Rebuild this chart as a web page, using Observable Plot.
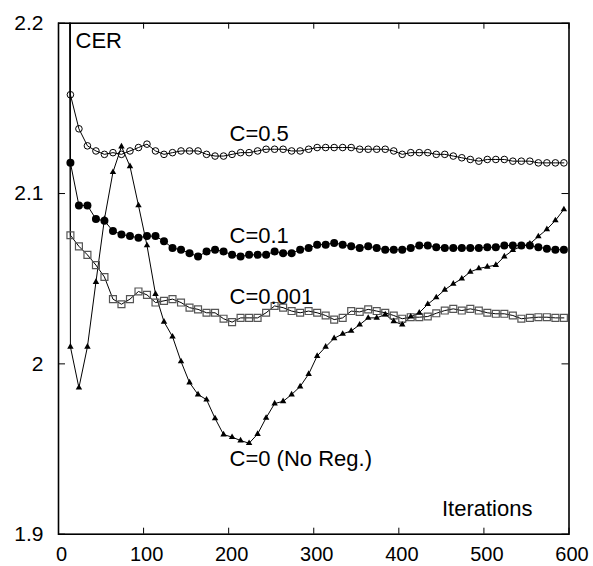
<!DOCTYPE html>
<html><head><meta charset="utf-8">
<script src="https://cdn.jsdelivr.net/npm/d3@7"></script>
<script src="https://cdn.jsdelivr.net/npm/@observablehq/plot@0.6"></script>
<style>body{margin:0;background:#fff}</style>
</head><body><div id="chart"></div>
<script>
// Iterations (first entry: off-chart starting point)
const iterations = [12,
  14, 24, 34, 44, 54, 64, 74, 84, 94, 104,
  114, 124, 134, 144, 154, 164, 174, 184, 194, 204,
  214, 224, 234, 244, 254, 264, 274, 284, 294, 304,
  314, 324, 334, 344, 354, 364, 374, 384, 394, 404,
  414, 424, 434, 444, 454, 464, 474, 484, 494, 504,
  514, 524, 534, 544, 554, 564, 574, 584, 594];

const cerC05 = [2.6,
  2.158, 2.138, 2.128, 2.125, 2.123, 2.124, 2.123, 2.125, 2.127, 2.129,
  2.125, 2.123, 2.124, 2.125, 2.125, 2.125, 2.123, 2.122, 2.122, 2.123,
  2.124, 2.124, 2.125, 2.126, 2.126, 2.126, 2.125, 2.125, 2.126, 2.127,
  2.127, 2.127, 2.127, 2.127, 2.126, 2.126, 2.126, 2.126, 2.125, 2.123,
  2.124, 2.124, 2.124, 2.123, 2.123, 2.122, 2.121, 2.120, 2.119, 2.120,
  2.120, 2.120, 2.119, 2.119, 2.119, 2.118, 2.118, 2.118, 2.118];

const cerC01 = [2.6,
  2.118, 2.093, 2.093, 2.085, 2.084, 2.078, 2.076, 2.075, 2.074, 2.075,
  2.075, 2.072, 2.068, 2.067, 2.065, 2.063, 2.066, 2.067, 2.066, 2.064,
  2.063, 2.064, 2.064, 2.064, 2.066, 2.065, 2.065, 2.067, 2.068, 2.070,
  2.070, 2.071, 2.070, 2.069, 2.068, 2.069, 2.068, 2.067, 2.067, 2.067,
  2.068, 2.0695, 2.0695, 2.0685, 2.068, 2.068, 2.068, 2.068, 2.068, 2.0685,
  2.0685, 2.0695, 2.0695, 2.0695, 2.0695, 2.0685, 2.0676, 2.067, 2.067];

const cerC0001 = [2.6,
  2.0755, 2.069, 2.064, 2.058, 2.051, 2.038, 2.035, 2.038, 2.0425, 2.0405,
  2.036, 2.037, 2.038, 2.036, 2.033, 2.032, 2.030, 2.030, 2.0265, 2.0245,
  2.027, 2.027, 2.027, 2.030, 2.034, 2.033, 2.031, 2.030, 2.031, 2.030,
  2.0284, 2.026, 2.027, 2.031, 2.0305, 2.032, 2.031, 2.030, 2.0284, 2.0265,
  2.0274, 2.0274, 2.0278, 2.0297, 2.0313, 2.0323, 2.0313, 2.0323, 2.0313, 2.030,
  2.0294, 2.0294, 2.0284, 2.0265, 2.027, 2.0274, 2.0274, 2.027, 2.027];

const cerC0 = [2.6,
  2.010, 1.986, 2.010, 2.048, 2.085, 2.1125, 2.1276, 2.116, 2.093, 2.0695,
  2.041, 2.0247, 2.016, 2.0014, 1.989, 1.982, 1.979, 1.968, 1.9585, 1.957,
  1.955, 1.9534, 1.9588, 1.9683, 1.9767, 1.978, 1.982, 1.9867, 1.994, 2.0046,
  2.010, 2.015, 2.0176, 2.0193, 2.023, 2.027, 2.027, 2.029, 2.025, 2.023,
  2.0277, 2.030, 2.035, 2.039, 2.0435, 2.047, 2.050, 2.054, 2.056, 2.057,
  2.058, 2.063, 2.0667, 2.069, 2.0705, 2.0748, 2.079, 2.0842, 2.0907];

const xTicks = [0, 100, 200, 300, 400, 500, 600];
const yTicks = [1.9, 2.0, 2.1, 2.2];

const labelText = ["C=0.5", "C=0.1", "C=0.001", "C=0 (No Reg.)", "CER", "Iterations"];
const labelX = [201, 201, 201, 201, 20, 450.7];
const labelY = [2.1311, 2.0708, 2.0354, 1.9403, 2.1857, 1.9104];

const W = 593, H = 566, mL = 58, mR = 24.5, mT = 22.7, mB = 32.3;
const plotW = W - mL - mR, plotH = H - mT - mB;
const rows = vals => iterations.map((x, i) => ({x, y: vals[i]}));

const series = [
  {vals: cerC05, dot: {symbol: "circle", r: 3.3, fill: "none", stroke: "black", strokeWidth: 1}},
  {vals: cerC01, dot: {symbol: "circle", r: 4, fill: "black", stroke: "none"}},
  {vals: cerC0001, dot: {symbol: "square", r: 3.9, fill: "none", stroke: "#555", strokeWidth: 1.2}},
  {vals: cerC0, dot: {symbol: "triangle", r: 2.4, fill: "black", stroke: "none"}}
];

const marks = [];
for (const s of series) {
  marks.push(Plot.line(rows(s.vals), {x: "x", y: "y", stroke: "black", strokeWidth: 1, clip: true}));
}
for (const s of series) {
  marks.push(Plot.dot(rows(s.vals), {x: "x", y: "y", ...s.dot, clip: true}));
}

const chart = Plot.plot({
  width: W, height: H,
  marginLeft: mL, marginRight: mR, marginTop: mT, marginBottom: mB,
  style: {fontFamily: "'Liberation Sans', Arial, Helvetica, sans-serif", fontSize: "22px", background: "white", color: "black"},
  x: {domain: [0, 600]},
  y: {domain: [1.9, 2.2]},
  marks: [
    Plot.axisX({ticks: xTicks, tickSize: 0, tickPadding: 13, dx: 3, fontSize: 20, tickFormat: d => String(d), label: null}),
    Plot.axisY({ticks: yTicks, tickSize: 0, tickPadding: 15, fontSize: 21, tickFormat: d => String(d), label: null}),
    Plot.tickX(xTicks, {x: d => d, insetTop: plotH - 6, stroke: "black"}),
    Plot.tickX(xTicks, {x: d => d, insetBottom: plotH - 6, stroke: "black"}),
    Plot.tickY(yTicks, {y: d => d, insetRight: plotW - 7, stroke: "black"}),
    Plot.tickY(yTicks, {y: d => d, insetLeft: plotW - 7, stroke: "black"}),
    ...marks,
    Plot.text(labelText, {x: labelX, y: labelY, text: labelText, textAnchor: "start", lineAnchor: "bottom", fontSize: 22, fill: "black"}),
    Plot.frame({stroke: "black", strokeWidth: 1.6})
  ]
});
document.getElementById("chart").appendChild(chart);
</script>
</body></html>
